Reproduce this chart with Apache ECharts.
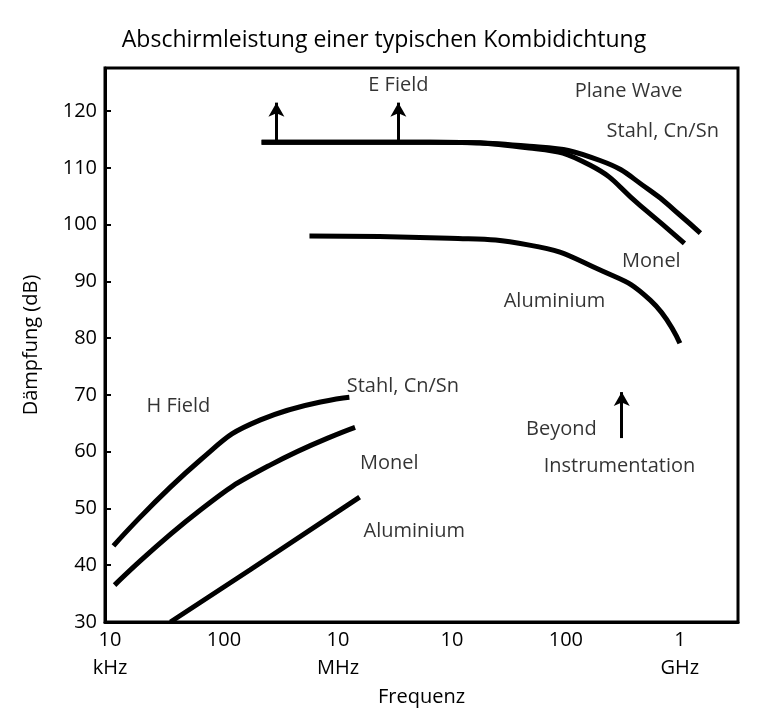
<!DOCTYPE html><html><head><meta charset="utf-8"><script src="https://cdn.jsdelivr.net/npm/echarts@6/dist/echarts.min.js"></script></head><body style="margin:0"><div id="c" style="width:768px;height:724px"></div><script>
const xTicks=[4,5,6,7,8,9];
const xTickLabels=['10\nkHz','100','10\nMHz','10','100','1\nGHz'];
const eStahl=[[5.33,114.5],[6.81,114.5],[7.68,113.8],[8.30,111.3],[8.74,106],[9.0,101.7],[9.18,98.5]];
const eMonel=[[5.33,114.5],[6.81,114.5],[7.68,113.5],[8.21,110.5],[8.65,103.4],[9.04,96.7]];
const eAlu=[[5.75,98],[6.98,97.6],[7.68,96.4],[8.30,92],[8.74,86.7],[9.0,79.1]];
const hStahl=[[4.03,43.4],[4.79,58.5],[5.32,65.6],[6.1,69.6]];
const hMonel=[[4.04,36.5],[4.79,49.7],[5.40,57.6],[6.15,64.3]];
const hAlu=[[4.53,30],[5.23,39.2],[6.19,52]];
const arrows=[[[5.46,114.5],[5.46,121.5]],[[6.53,114.5],[6.53,121.5]],[[8.49,62.4],[8.49,70.5]]];
const labels=[['E Field',6.53,124.5],['Plane Wave',8.55,123.5],['Stahl, Cn/Sn',8.85,116.5],['Monel',8.75,93.5],['Aluminium',7.9,86.5],['H Field',4.6,68],['Stahl, Cn/Sn',6.57,71.5],['Monel',6.45,58],['Aluminium',6.67,46],['Beyond',7.96,64],['Instrumentation',8.47,57.5]];
const ln=d=>({type:'line',data:d,smooth:0.5,symbol:'none',lineStyle:{color:'#000',width:5},z:3});
const TF='Open Sans';
const ch=echarts.init(document.getElementById('c'));
ch.setOption({
 animation:false,
 title:{text:'Abschirmleistung einer typischen Kombidichtung',left:'center',top:24,textStyle:{fontFamily:TF,fontWeight:'normal',fontSize:23,color:'#000'}},
 grid:{left:105,right:30,top:68,bottom:102,show:true,borderColor:'#000',borderWidth:3},
 xAxis:{type:'value',min:3.956,max:9.51,interval:1,name:'Frequenz',nameLocation:'middle',nameGap:56,nameTextStyle:{fontSize:20,fontFamily:TF,color:'#000'},
  axisLine:{lineStyle:{color:'#000',width:3}},axisTick:{show:false},splitLine:{show:false},
  axisLabel:{showMinLabel:true,showMaxLabel:true,customValues:xTicks,fontSize:20,fontFamily:TF,color:'#000',lineHeight:28,margin:4,formatter:v=>{const i=xTicks.indexOf(Math.round(v));return i>=0?xTickLabels[i]:'';}}},
 yAxis:{type:'value',min:30,max:127.6,interval:10,name:'Dämpfung (dB)',nameLocation:'middle',nameGap:64,nameTextStyle:{fontSize:20,fontFamily:TF,color:'#000'},
  axisLine:{lineStyle:{color:'#000',width:3}},axisTick:{show:true,inside:true,length:6,lineStyle:{width:2}},splitLine:{show:false},
  axisLabel:{showMaxLabel:false,fontSize:20,fontFamily:TF,color:'#000',formatter:v=>v%10===0?v:''}},
 series:[ln(eStahl),ln(eMonel),ln(eAlu),ln(hStahl),ln(hMonel),ln(hAlu),
  {type:'line',data:[],markLine:{silent:true,symbol:['none','arrow'],symbolSize:[12,14],label:{show:false},lineStyle:{color:'#000',width:3,type:'solid'},data:arrows.map(a=>[{coord:a[0]},{coord:a[1]}])}},
  {type:'scatter',data:labels.map(l=>({value:[l[1],l[2]],name:l[0]})),symbolSize:0,label:{show:true,position:'inside',formatter:p=>p.name,fontSize:20,fontFamily:TF,color:'#000'}}]
});
</script></body></html>
